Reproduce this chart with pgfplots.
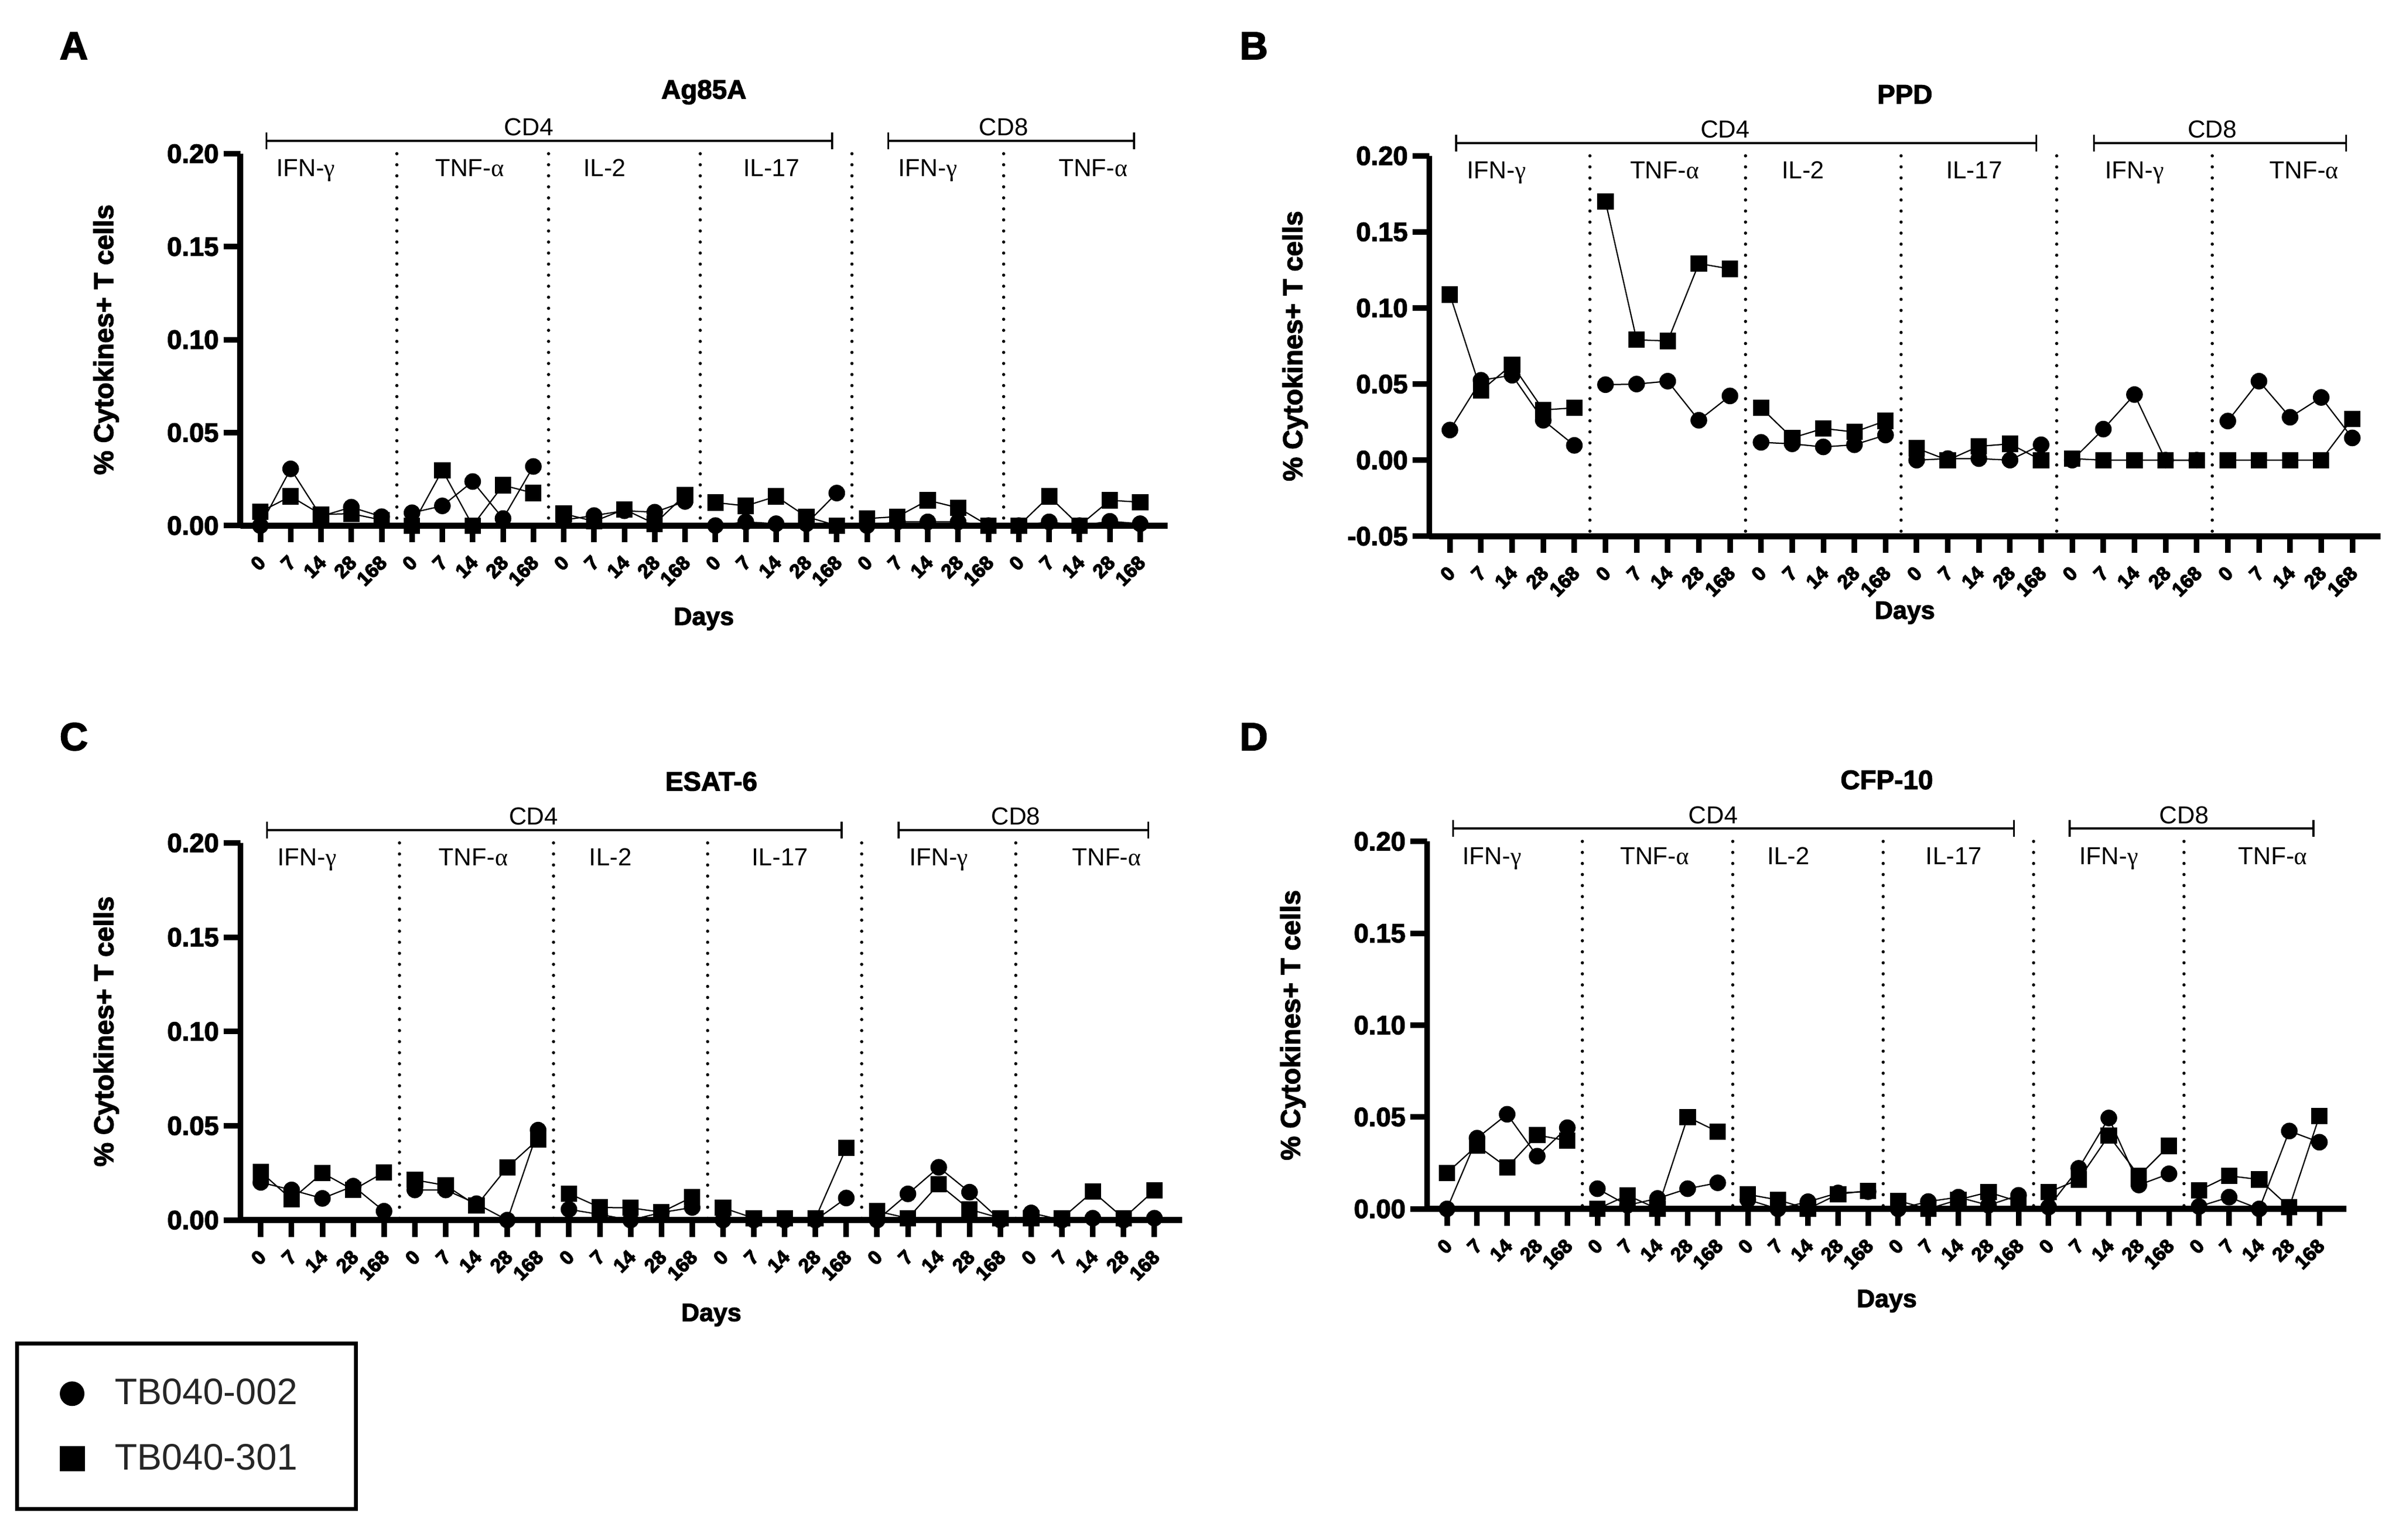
\documentclass[border=0pt]{standalone}
\usepackage{fontspec}
\setmainfont{Liberation Sans}
\newfontfamily\grkfont{Liberation Serif}
\newfontfamily\hvy{Liberation Sans Bold}[FakeBold=2.5]
\newfontfamily\hvyt{Liberation Sans Bold}[FakeBold=4]
\usepackage{pgfplots}
\usepackage{pgfplotstable}
\pgfplotsset{compat=1.18}
\newcommand{\fs}[1]{\fontsize{#1}{#1}\selectfont}
\newcommand{\g}[1]{{\grkfont #1}}

\pgfplotstableread{
x c s
0 0 0.0074
1 0.0305 0.0157
2 0.005 0.006
3 0.0099 0.0064
4 0.0048 0.003
4.5 nan nan
5 0.0069 0
6 0.0106 0.0298
7 0.0237 0
8 0.0038 0.0217
9 0.0318 0.0175
9.5 nan nan
10 0.003 0.0064
11 0.0054 0.0023
12 0.008 0.0087
13 0.0072 0.001
14 0.013 0.0165
14.5 nan nan
15 0 0.0124
16 0.002 0.0106
17 0.001 0.0157
18 0.001 0.0048
19 0.0175 0
19.5 nan nan
20 0 0.0038
21 0.002 0.0048
22 0.002 0.0136
23 0.002 0.0096
24 0 0
24.5 nan nan
25 0 0
26 0.002 0.0157
27 0 0
28 0.0023 0.0136
29 0.001 0.0126
}\tblA

\pgfplotstableread{
x c s
0 0.0198 0.1088
1 0.0525 0.0457
2 0.0558 0.0628
3 0.0262 0.033
4 0.0097 0.0344
4.5 nan nan
5 0.0496 0.170
6 0.050 0.0791
7 0.0519 0.0783
8 0.0262 0.1292
9 0.0422 0.1257
9.5 nan nan
10 0.0117 0.0344
11 0.0107 0.0146
12 0.0087 0.0208
13 0.0101 0.0185
14 0.0165 0.0258
14.5 nan nan
15 0 0.0078
16 0.001 0
17 0.001 0.0091
18 0 0.0107
19 0.0101 0
19.5 nan nan
20 0 0.001
21 0.0204 0
22 0.0431 0
23 0 0
24 0 0
24.5 nan nan
25 0.0257 0
26 0.0519 0
27 0.0282 0
28 0.0412 0
29 0.0146 0.0272
}\tblB

\pgfplotstableread{
x c s
0 0.020 0.0255
1 0.016 0.011
2 0.0115 0.025
3 0.018 0.016
4 0.0047 0.0253
4.5 nan nan
5 0.016 0.0213
6 0.016 0.0184
7 0.0087 0.0077
8 0 0.028
9 0.0477 0.0428
9.5 nan nan
10 0.0057 0.0141
11 0.003 0.0067
12 0 0.0065
13 0.004 0.0042
14 0.0067 0.0122
14.5 nan nan
15 0 0.0065
16 0 0.001
17 0 0.001
18 0 0.001
19 0.0117 0.0383
19.5 nan nan
20 0 0.0047
21 0.0139 0.001
22 0.028 0.019
23 0.0148 0.0057
24 0 0.001
24.5 nan nan
25 0.0038 0.001
26 0 0.001
27 0.001 0.0151
28 0 0.001
29 0.001 0.0158
}\tblC

\pgfplotstableread{
x c s
0 0 0.0196
1 0.0385 0.0345
2 0.0515 0.0226
3 0.0287 0.0402
4 0.0442 0.0371
4.5 nan nan
5 0.011 0
6 0.002 0.0074
7 0.0057 0
8 0.011 0.050
9 0.0142 0.042
9.5 nan nan
10 0.005 0.0079
11 0 0.0049
12 0.0039 0
13 0.0087 0.008
14 0.0094 0.0099
14.5 nan nan
15 0 0.0044
16 0.004 0
17 0.0064 0.005
18 0.002 0.0091
19 0.0074 0.004
19.5 nan nan
20 0.001 0.0091
21 0.0221 0.016
22 0.0495 0.0399
23 0.013 0.018
24 0.0191 0.0343
24.5 nan nan
25 0.0013 0.0101
26 0.0064 0.018
27 0 0.016
28 0.0424 0.001
29 0.0363 0.0505
}\tblD

\pgfplotsset{
  panel/.style={
    scale only axis,
    anchor=south west,
    clip=false,
    axis x line*=bottom,
    axis y line*=left,
    axis line style={line width=2.1pt, black},
    xmin=-0.66, xmax=29.9,
    ymax=0.2,
    xtick={0,...,29},
    xticklabels={0,7,14,28,168,0,7,14,28,168,0,7,14,28,168,0,7,14,28,168,0,7,14,28,168,0,7,14,28,168},
    tick align=outside,
    major tick length=6pt,
    tick style={line width=2pt, black},
    minor tick num=0,
    /pgf/number format/assume math mode=true,
    xticklabel style={font=\fs{7}\hvyt, xshift=-1.2pt, yshift=-4.0pt, rotate=45, anchor=north east, inner sep=0pt},
    yticklabel style={font=\fs{9.5}\hvy, inner sep=0pt, anchor=east, xshift=-1.5pt},
    unbounded coords=jump,
  },
  circ/.style={black, line width=0.45pt, mark=*, mark size=2.75pt, mark options={solid}},
  sqr/.style={black, line width=0.45pt, mark=square*, mark size=2.7pt, mark options={solid}},
}

% decorations: #1 ymin, #2 title, #3 Days shift
\newcommand{\deco}[3]{%
  \pgfplotsinvokeforeach{4.5,9.5,14.5,19.5,24.5}{%
    \draw[line width=1.15pt, line cap=round, dash pattern=on 0pt off 3.95pt] (axis cs:##1,0.2) -- (axis cs:##1,#1);}
  \draw[line width=0.7pt] ([yshift=4.6pt]axis cs:0.2,0.2) -- ([yshift=4.6pt]axis cs:18.85,0.2);
  \draw[line width=0.7pt] ([yshift=1.6pt]axis cs:0.2,0.2) -- ([yshift=7.6pt]axis cs:0.2,0.2);
  \draw[line width=0.7pt] ([yshift=1.6pt]axis cs:18.85,0.2) -- ([yshift=7.6pt]axis cs:18.85,0.2);
  \draw[line width=0.7pt] ([yshift=4.6pt]axis cs:20.7,0.2) -- ([yshift=4.6pt]axis cs:28.8,0.2);
  \draw[line width=0.7pt] ([yshift=1.6pt]axis cs:20.7,0.2) -- ([yshift=7.6pt]axis cs:20.7,0.2);
  \draw[line width=0.7pt] ([yshift=1.6pt]axis cs:28.8,0.2) -- ([yshift=7.6pt]axis cs:28.8,0.2);
  \node[font=\fs{8.8}, anchor=base] at ([yshift=6.4pt]axis cs:8.85,0.2) {CD4};
  \node[font=\fs{8.8}, anchor=base] at ([yshift=6.4pt]axis cs:24.5,0.2) {CD8};
  \node[font=\fs{8.8}, anchor=base] at ([yshift=-8.2pt]axis cs:1.5,0.2) {IFN-\g{γ}};
  \node[font=\fs{8.8}, anchor=base] at ([yshift=-8.2pt]axis cs:6.9,0.2) {TNF-\g{α}};
  \node[font=\fs{8.8}, anchor=base] at ([yshift=-8.2pt]axis cs:11.35,0.2) {IL-2};
  \node[font=\fs{8.8}, anchor=base] at ([yshift=-8.2pt]axis cs:16.85,0.2) {IL-17};
  \node[font=\fs{8.8}, anchor=base] at ([yshift=-8.2pt]axis cs:22.0,0.2) {IFN-\g{γ}};
  \node[font=\fs{8.8}, anchor=base] at ([yshift=-8.2pt]axis cs:27.45,0.2) {TNF-\g{α}};
  \node[font=\fs{9.6}\hvy] at ([yshift=22pt]rel axis cs:0.5,1) {#2};
  \node[font=\fs{9}\hvy] at ([yshift=-#3]rel axis cs:0.5,0) {Days};
  \node[font=\fs{9.75}\hvy, rotate=90] at ([xshift=-48pt]rel axis cs:0,0.5) {\% Cytokines+ T cells};
}

\begin{document}
\begin{tikzpicture}
\path[use as bounding box] (0,0) rectangle (858pt,550.8pt);

\node[font=\fs{14}\hvy] at (26.4pt,534.4pt) {A};
\node[font=\fs{14}\hvy] at (448.4pt,534.4pt) {B};
\node[font=\fs{14}\hvy] at (26.4pt,287.2pt) {C};
\node[font=\fs{14}\hvy] at (448.4pt,287.2pt) {D};

% Panel A
\begin{axis}[panel, at={(85.94pt,362.74pt)}, width=331.6pt, height=133.06pt,
  ymin=0, ytick={0,0.05,0.1,0.15,0.2}, yticklabels={0.00,0.05,0.10,0.15,0.20}]
  \addplot[circ, forget plot] table[x=x, y=c] {\tblA};
  \addplot[sqr, forget plot] table[x=x, y=s] {\tblA};
  \deco{0}{Ag85A}{33.4pt}
\end{axis}

% Panel B
\begin{axis}[panel, at={(511.2pt,358.94pt)}, width=340.1pt, height=136.1pt,
  ymin=-0.05, ytick={-0.05,0,0.05,0.1,0.15,0.2}, yticklabels={-0.05,0.00,0.05,0.10,0.15,0.20}]
  \addplot[circ, forget plot] table[x=x, y=c] {\tblB};
  \addplot[sqr, forget plot] table[x=x, y=s] {\tblB};
  \deco{-0.05}{PPD}{27.4pt}
\end{axis}

% Panel C
\begin{axis}[panel, at={(86pt,114.26pt)}, width=336.8pt, height=134.96pt,
  ymin=0, ytick={0,0.05,0.1,0.15,0.2}, yticklabels={0.00,0.05,0.10,0.15,0.20},
  legend style={at={(axis description cs:-0.2393,-0.322)}, anchor=north west,
    draw=black, line width=1.4pt, inner xsep=15.4pt, inner ysep=12.6pt,
    row sep=12.6pt, column sep=11pt, font=\fs{13.2}, text=black!85,
    nodes={inner sep=0pt}},
  legend cell align=left,
  legend image code/.code={\draw[#1] plot coordinates {(0pt,0pt)};}]
  \addplot[circ, forget plot] table[x=x, y=c] {\tblC};
  \addplot[sqr, forget plot] table[x=x, y=s] {\tblC};
  \addlegendimage{only marks, black, mark=*, mark size=4.2pt, line width=0.4pt}
  \addlegendentry{TB040-002\rule{5.5pt}{0pt}}
  \addlegendimage{only marks, black, mark=square*, mark size=4.3pt, line width=0.4pt}
  \addlegendentry{TB040-301\rule{5.5pt}{0pt}}
  \deco{0}{ESAT-6}{34pt}
\end{axis}

% Panel D
\begin{axis}[panel, at={(510.4pt,118.26pt)}, width=328.8pt, height=131.5pt,
  ymin=0, ytick={0,0.05,0.1,0.15,0.2}, yticklabels={0.00,0.05,0.10,0.15,0.20}]
  \addplot[circ, forget plot] table[x=x, y=c] {\tblD};
  \addplot[sqr, forget plot] table[x=x, y=s] {\tblD};
  \deco{0}{CFP-10}{33pt}
\end{axis}
\end{tikzpicture}
\end{document}
